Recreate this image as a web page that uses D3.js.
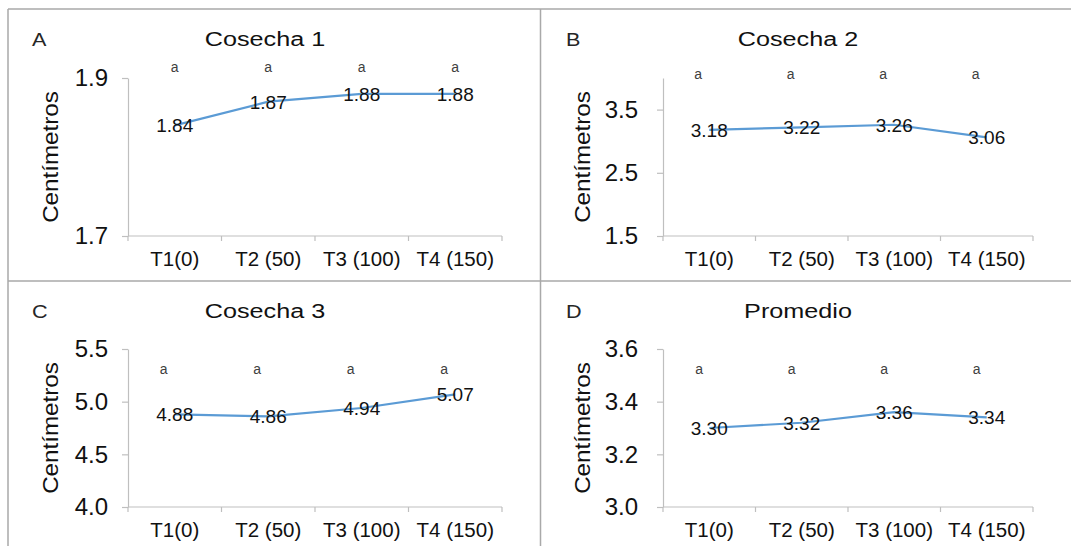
<!DOCTYPE html>
<html>
<head>
<meta charset="utf-8">
<script src="https://cdn.jsdelivr.net/npm/d3@7"></script>
<style>
  html, body { margin: 0; padding: 0; background: #fff; }
  svg { display: block; font-family: "Liberation Sans", Arial, sans-serif; }
</style>
</head>
<body>
<svg id="chart" width="1071" height="546"></svg>
<script>
// Treatments (nitrogen dose in parentheses)
const categories = ["T1(0)", "T2 (50)", "T3 (100)", "T4 (150)"];

// Fruit size (cm) per harvest and the overall mean
const cosecha1 = [1.84, 1.87, 1.88, 1.88];
const cosecha2 = [3.18, 3.22, 3.26, 3.06];
const cosecha3 = [4.88, 4.86, 4.94, 5.07];
const promedio = [3.30, 3.32, 3.36, 3.34];

// Tukey grouping letters (same for every treatment)
const letras1 = ["a", "a", "a", "a"];
const letras2 = ["a", "a", "a", "a"];
const letras3 = ["a", "a", "a", "a"];
const letrasP = ["a", "a", "a", "a"];

// Y-axis ticks and ranges
const ticks1 = [1.7, 1.9];
const ticks2 = [1.5, 2.5, 3.5];
const ticks3 = [4.0, 4.5, 5.0, 5.5];
const ticksP = [3.0, 3.2, 3.4, 3.6];
const domain1 = [1.7, 1.9];
const domain2 = [1.5, 4.0];
const domain3 = [4.0, 5.5];
const domainP = [3.0, 3.6];

const titles = ["Cosecha 1", "Cosecha 2", "Cosecha 3", "Promedio"];
const panelLetters = ["A", "B", "C", "D"];
const yTitle = "Centímetros";

const panels = [
  { values: cosecha1, letters: letras1, ticks: ticks1, domain: domain1 },
  { values: cosecha2, letters: letras2, ticks: ticks2, domain: domain2 },
  { values: cosecha3, letters: letras3, ticks: ticks3, domain: domain3 },
  { values: promedio, letters: letrasP, ticks: ticksP, domain: domainP }
];

// Layout of the 2x2 grid
const colLeft = [128, 663], colRight = [502, 1033];
const rowTop = [78, 349], rowBottom = [236, 507];
const colTitleX = [265, 798], rowTitleY = [46, 318];
const colLetterX = [32, 566];
const colYLabelX = [50, 582];
const colTickPad = [14, 19];
const letterShift = [0, -11, -11, -10];
const rowLetterY = [72, 374];
const rowLetterYB = [79, 374];

const lineColor = "#5b9bd5";
const axisColor = "#bfbfbf";
const frameColor = "#a9a9a9";

const svg = d3.select("#chart");

// Frame and dividers
const frame = svg.append("g").attr("stroke", frameColor).attr("stroke-width", 1.5);
frame.append("line").attr("x1", 8).attr("x2", 1071).attr("y1", 9).attr("y2", 9);
frame.append("line").attr("x1", 8).attr("x2", 8).attr("y1", 9).attr("y2", 546);
frame.append("line").attr("x1", 540.5).attr("x2", 540.5).attr("y1", 9).attr("y2", 546);
frame.append("line").attr("x1", 8).attr("x2", 1071).attr("y1", 281).attr("y2", 281);

panels.forEach((p, i) => {
  const col = i % 2, row = Math.floor(i / 2);
  const left = colLeft[col], right = colRight[col];
  const top = rowTop[row], bottom = rowBottom[row];

  const x = d3.scaleBand().domain(categories).range([left, right]).padding(0);
  const y = d3.scaleLinear().domain(p.domain).range([bottom, top]);
  const cx = d => x(d) + x.bandwidth() / 2;

  const g = svg.append("g");

  // Panel letter and title
  g.append("text")
    .attr("transform", `translate(${colLetterX[col]},${rowTitleY[row]}) scale(1.2,1)`)
    .attr("font-size", 18).attr("fill", "#262626")
    .text(panelLetters[i]);
  g.append("text")
    .attr("transform", `translate(${colTitleX[col]},${rowTitleY[row]}) scale(1.2,1)`)
    .attr("text-anchor", "middle")
    .attr("font-size", 21).attr("fill", "#111")
    .text(titles[i]);

  // Y axis
  const yAxis = d3.axisLeft(y)
    .tickValues(p.ticks)
    .tickFormat(d3.format(".1f"))
    .tickSize(6)
    .tickSizeOuter(0)
    .tickPadding(colTickPad[col]);
  const ya = g.append("g").attr("transform", `translate(${left},0)`).call(yAxis);
  ya.select(".domain").attr("stroke", axisColor).attr("stroke-width", 1.2);
  ya.selectAll(".tick line").attr("stroke", axisColor).attr("stroke-width", 1.2);
  ya.selectAll(".tick text")
    .attr("font-size", 24).attr("fill", "#111")
    .attr("font-family", "Liberation Sans, Arial, sans-serif");

  // X axis: labels centered in each band, ticks on the band edges
  const xAxis = d3.axisBottom(x).tickSize(0).tickPadding(15);
  const xa = g.append("g").attr("transform", `translate(0,${bottom})`).call(xAxis);
  xa.select(".domain").remove();
  xa.selectAll(".tick text")
    .attr("font-size", 20.5).attr("fill", "#111")
    .attr("font-family", "Liberation Sans, Arial, sans-serif");
  g.append("line")
    .attr("x1", left).attr("x2", right).attr("y1", bottom).attr("y2", bottom)
    .attr("stroke", axisColor).attr("stroke-width", 1.2);
  const edges = categories.map(c => x(c)).concat([x.range()[1]]);
  g.selectAll(".edge").data(edges).join("line")
    .attr("x1", d => d).attr("x2", d => d)
    .attr("y1", bottom).attr("y2", bottom + 5)
    .attr("stroke", axisColor).attr("stroke-width", 1.2);

  // Y-axis title
  g.append("text")
    .attr("transform", `translate(${colYLabelX[col]},${(top + bottom) / 2}) rotate(-90) scale(1.1,1)`)
    .attr("text-anchor", "middle").attr("dy", "0.35em")
    .attr("font-size", 22).attr("fill", "#111")
    .text(yTitle);

  // Series line
  const line = d3.line().x((d, k) => cx(categories[k])).y(d => y(d));
  g.append("path")
    .datum(p.values)
    .attr("d", line)
    .attr("fill", "none")
    .attr("stroke", lineColor)
    .attr("stroke-width", 2.2);

  // Value labels centered on each point
  g.selectAll(".val").data(p.values).join("text")
    .attr("x", (d, k) => cx(categories[k]))
    .attr("y", d => y(d))
    .attr("dy", "0.36em")
    .attr("text-anchor", "middle")
    .attr("font-size", 19).attr("fill", "#111")
    .text(d => d3.format(".2f")(d));

  // Grouping letters above each treatment
  const ly = (i === 1) ? rowLetterYB[row] : rowLetterY[row];
  g.selectAll(".grp").data(p.letters).join("text")
    .attr("x", (d, k) => cx(categories[k]) + letterShift[i])
    .attr("y", ly)
    .attr("text-anchor", "middle")
    .attr("font-size", 14).attr("fill", "#404040")
    .text(d => d);
});
</script>
</body>
</html>
